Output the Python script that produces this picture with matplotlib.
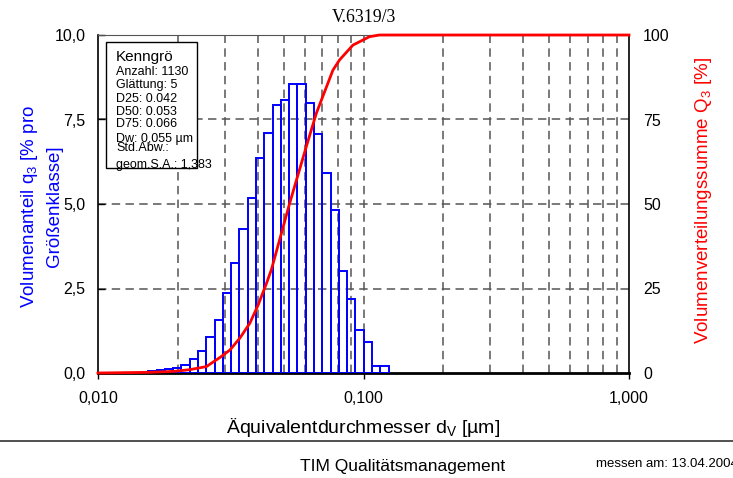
import numpy as np
import matplotlib
matplotlib.use("Agg")
import matplotlib.pyplot as plt
from matplotlib.lines import Line2D
from matplotlib.ticker import FixedLocator, NullFormatter

plt.rcParams['font.family'] = ['Liberation Sans', 'DejaVu Sans']

##data
# class edges of the histogram [µm]
bin_edges = [0.01546, 0.01661, 0.01785, 0.01918, 0.02061, 0.02214, 0.02379, 0.02557,
             0.02747, 0.02952, 0.03172, 0.03408, 0.03662, 0.03935, 0.04228, 0.04543,
             0.04882, 0.05246, 0.05637, 0.06057, 0.06508, 0.06993, 0.07514, 0.08074,
             0.08676, 0.09322, 0.10017, 0.10764, 0.11566, 0.12428]
# volume fraction per class [%]
q3 = [0.05, 0.08, 0.11, 0.15, 0.24, 0.41, 0.65, 1.06, 1.58, 2.38, 3.25, 4.27, 5.17, 6.37,
      7.09, 7.92, 8.07, 8.55, 8.55, 7.98, 7.08, 5.92, 4.83, 3.03, 2.19, 1.26, 0.93, 0.20, 0.20]
# cumulative curve
cum_d = [0.010, 0.0157, 0.0195, 0.0222, 0.0256, 0.0288, 0.0314, 0.0342, 0.0373, 0.0401,
         0.0431, 0.0450, 0.0527, 0.0609, 0.0664, 0.0767, 0.0812, 0.0912, 0.1053, 0.1149, 1.0]
cum_Q = [0.0, 0.2, 0.5, 1.0, 1.9, 4.6, 6.8, 10.3, 14.7, 20.1,
         26.5, 30.6, 50.2, 67.0, 76.8, 89.6, 92.6, 97.0, 99.5, 100.0, 100.0]

left_ticks = [0.0, 2.5, 5.0, 7.5, 10.0]
right_ticks = [0, 25, 50, 75, 100]
x_ticks = [0.01, 0.1, 1.0]
x_grid = [0.02, 0.03, 0.04, 0.05, 0.06, 0.07, 0.08, 0.09,
          0.2, 0.3, 0.4, 0.5, 0.6, 0.7, 0.8, 0.9]

info_lines = ["Anzahl: 1130", "Glättung: 5", "D25: 0.042", "D50: 0.053",
              "D75: 0.066", "Dw: 0,055 µm", "Std.Abw.:", "geom.S.A.: 1,383"]
info_y = [71.7, 85.0, 99.0, 111.7, 124.3, 139.3, 148.3, 165.0]

W, H = 733, 478
fig = plt.figure(figsize=(W / 100, H / 100), dpi=100)
ax = fig.add_axes([98 / W, 1 - 373 / H, (629 - 98) / W, (373 - 35) / H])

grid_style = dict(color='#555555', lw=1.1, dashes=(5.5, 3.5))

#histogram bars, unfilled
edges = np.array(bin_edges)
ax.bar(edges[:-1], q3, width=np.diff(edges), align='edge', fill=False,
       edgecolor='#0000ff', linewidth=1.4, zorder=3)

ax.set_xscale('log')
ax.set_xlim(0.01, 1.0)
ax.set_ylim(0, 10)

for xv in x_grid + [0.1]:
    ax.axvline(xv, zorder=1, **grid_style)
for yv in left_ticks[1:]:
    ax.axhline(yv, zorder=1, **grid_style)

ax.xaxis.set_major_locator(FixedLocator(x_ticks))
ax.xaxis.set_minor_locator(FixedLocator([]))
ax.xaxis.set_minor_formatter(NullFormatter())
ax.set_xticklabels(['0,010', '0,100', '1,000'])
ax.set_yticks(left_ticks)
ax.set_yticklabels([f'{v:.1f}'.replace('.', ',') for v in left_ticks])
ax.tick_params(axis='x', direction='out', length=4, width=1, labelsize=11.5, pad=9)
ax.tick_params(axis='y', direction='in', length=5, width=1, labelsize=11.5, pad=9)

for s in ['left', 'right']:
    ax.spines[s].set_linewidth(1.2)
ax.spines['bottom'].set_linewidth(2)
ax.spines['top'].set_color('#555555')

ax.set_xlabel('Äquivalentdurchmesser d$_\\mathregular{V}$ [µm]', fontsize=14, labelpad=7)
ax.set_title('V.6319/3', family='Liberation Serif', fontsize=12.8, pad=9)

#left label placed by hand (two lines)
fig.text(41 / W, 1 - 206 / H, 'Volumenanteil q$_\\mathregular{3}$ [% pro\nGrößenklasse]',
         color='#0000ff', fontsize=13.5, rotation=90, ha='center', va='center',
         multialignment='center', linespacing=1.45)

#cumulative curve on the right axis
ax2 = ax.twinx()
ax2.plot(cum_d, cum_Q, color='#ff0000', lw=2, zorder=5, clip_on=False)
ax2.set_ylim(0, 100)
ax2.set_yticks(right_ticks)
ax2.set_yticklabels([str(v) for v in right_ticks])
ax2.tick_params(axis='y', direction='in', length=0, labelsize=11.5, pad=10)
for s in ax2.spines.values():
    s.set_visible(False)
fig.text(704 / W, 1 - 201 / H, 'Volumenverteilungssumme Q$_\\mathregular{3}$ [%]',
         color='#ff0000', fontsize=13.5, rotation=90, ha='center', va='center')

#info box
fig.add_artist(plt.Rectangle((106 / W, 1 - 168 / H), (197 - 106) / W, (168 - 42) / H,
                             fill=True, facecolor='white', edgecolor='black', lw=1,
                             transform=fig.transFigure, zorder=10))
fig.text(116 / W, 1 - 56.7 / H, 'Kenngrö', fontsize=11, va='center', zorder=11)
for txt, yy in zip(info_lines, info_y):
    fig.text(116 / W, 1 - yy / H, txt, fontsize=9, va='center', zorder=11)

#footer
fig.add_artist(Line2D([0, 1], [1 - 441 / H, 1 - 441 / H], color='#333333', lw=1.2,
                      transform=fig.transFigure))
fig.text(403 / W, 1 - 466 / H, 'TIM Qualitätsmanagement', fontsize=12.5,
         ha='center', va='center')
fig.text(596 / W, 1 - 464 / H, 'messen am: 13.04.2004', fontsize=9.5, ha='left', va='center')

fig.savefig('out.png', dpi=100)
